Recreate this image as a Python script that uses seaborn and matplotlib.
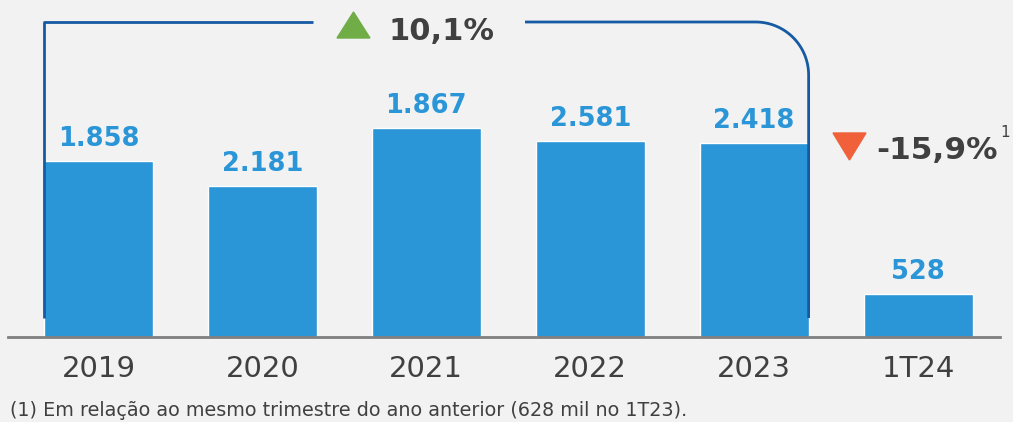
import numpy as np
import pandas as pd
import matplotlib
matplotlib.use("Agg")
import matplotlib.pyplot as plt
from matplotlib.patches import Polygon
import seaborn as sns

# dados
periodos = ['2019', '2020', '2021', '2022', '2023', '1T24']
rotulos = ['1.858', '2.181', '1.867', '2.581', '2.418', '528']
alturas = [176, 151, 209, 196, 194, 43]  # altura das barras como desenhadas
var_anos = '10,1%'
var_tri = '-15,9%'
nota = '(1) Em relação ao mesmo trimestre do ano anterior (628 mil no 1T23).'

df = pd.DataFrame({'periodo': periodos, 'altura': alturas})

fundo = '#f2f2f2'
azul = '#2a95d7'
cinza = '#404040'

sns.set_theme(style='white')
plt.rcParams['font.family'] = ['DejaVu Sans']

W, H = 1013, 422
fig = plt.figure(figsize=(W / 100, H / 100), dpi=100, facecolor=fundo)
ax = fig.add_axes([8 / W, 1 - 337 / H, 992 / W, 337 / H])
ax.set_facecolor(fundo)

sns.barplot(data=df, x='periodo', y='altura', color=azul, width=0.665,
            saturation=1, ax=ax)
ax.set_xlim(-0.552, 5.5)
ax.set_ylim(0, 337)
ax.set_yticks([])
ax.set_xlabel('')
ax.set_ylabel('')
for s in ['top', 'left', 'right']:
    ax.spines[s].set_visible(False)
ax.spines['bottom'].set_color('#7f7f7f')
ax.spines['bottom'].set_linewidth(2)
ax.tick_params(axis='x', length=0, pad=13)
for t in ax.get_xticklabels():
    t.set_fontsize(21)
    t.set_color(cinza)

# rotulos de valor
for i, (h, r) in enumerate(zip(alturas, rotulos)):
    ax.text(i, h + 15, r, ha='center', va='baseline', fontsize=18.5,
            fontweight='bold', color=azul)

# colchete 2019-2023
px = 163.9
xe = -0.3325
xd = 4.3325
ytop, ybot = 315, 19
raio = 53
ang = np.linspace(0, np.pi / 2, 30)
cx = xd - raio / px
cy = ytop - raio
arco_x = cx + (raio / px) * np.sin(ang)
arco_y = cy + raio * np.cos(ang)
linha = dict(color='#155aa3', lw=2, solid_capstyle='butt', clip_on=False)
ax.plot([xe, xe, (313 - 98.5) / px], [ybot, ytop, ytop], **linha)
ax.plot(np.r_[(525 - 98.5) / px, arco_x, xd], np.r_[ytop, arco_y, ybot], **linha)


# triangulos (coordenadas em pixels da figura)
def tri(pontos, cor):
    pts = [(x / W, 1 - y / H) for x, y in pontos]
    fig.patches.append(Polygon(pts, closed=True, color=cor,
                               transform=fig.transFigure, figure=fig))


tri([(337, 38), (370, 38), (353.5, 12)], '#70ad47')
tri([(833, 133), (866, 133), (849.5, 160)], '#f0603a')

fig.text(388 / W, 1 - 40 / H, var_anos, ha='left', va='baseline', fontsize=22,
         fontweight='bold', color=cinza)
fig.text(876 / W, 1 - 159 / H, var_tri, ha='left', va='baseline', fontsize=22.5,
         fontweight='bold', color=cinza)
fig.text(1000 / W, 1 - 137 / H, '1', ha='left', va='baseline', fontsize=11,
         color=cinza)

fig.text(10 / W, 1 - 416 / H, nota, ha='left', va='baseline', fontsize=13.8,
         color=cinza)

fig.savefig('out.png', dpi=100, facecolor=fundo)
